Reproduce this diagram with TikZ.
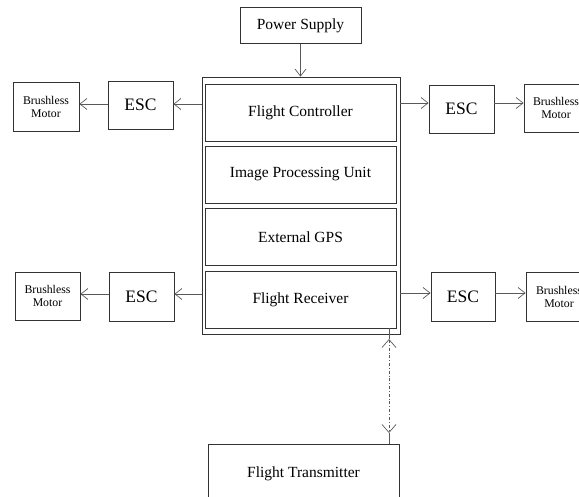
\documentclass[tikz,border=0pt]{standalone}
\usepackage{fontspec}
\setmainfont{Liberation Serif}
\usetikzlibrary{arrows.meta}
\begin{document}
\begin{tikzpicture}[x=1pt,y=-1pt,
  box/.style={draw=black!80, line width=0.8pt, minimum width=#1, inner sep=0pt, align=center, font=\fontsize{15.5}{17}\selectfont},
  escbox/.style={draw=black!80, line width=0.8pt, minimum width=65pt, minimum height=48pt, inner sep=0pt, font=\fontsize{17.5}{19}\selectfont},
  motbox/.style={draw=black!80, line width=0.8pt, minimum width=65pt, minimum height=48pt, inner sep=0pt, align=center, font=\fontsize{11.8}{13}\selectfont},
  arr/.style={draw=black!65, line width=0.7pt, -{Straight Barb[length=7pt,width=11pt]}},
  link/.style={draw=black!65, line width=0.7pt}
]
\clip (0,0) rectangle (579,497);
\useasboundingbox (0,0) rectangle (579,497);

% central stack
\node[box=121pt, minimum height=36pt] (ps) at (300.5,25.5) {Power Supply};
\node[draw=black!80, line width=0.8pt, minimum width=198pt, minimum height=257pt, inner sep=0pt] (outer) at (301,205.5) {};
\node[box=191pt, minimum height=57pt] (fc) at (300.5,112.5) {Flight Controller};
\node[box=191pt, minimum height=57pt] (ipu) at (300.5,174.5) {Image Processing Unit};
\node[box=191pt, minimum height=57pt] (gps) at (300.5,237) {External GPS};
\node[box=191pt, minimum height=57pt] (fr) at (300.5,299.5) {Flight Receiver};

% upper row
\node[escbox] (escL1) at (140.5,105) {ESC};
\node[motbox, minimum width=66pt, minimum height=49pt] (motL1) at (46,106.5) {Brushless\\Motor};
\node[escbox] (escR1) at (461.5,109) {ESC};
\node[motbox, minimum width=64pt] (motR1) at (556,108) {Brushless\\Motor};

% lower row
\node[escbox, minimum height=49pt] (escL2) at (141.5,296.5) {ESC};
\node[motbox] (motL2) at (47.5,296) {Brushless\\Motor};
\node[escbox, minimum width=64pt, minimum height=49pt] (escR2) at (463,296.5) {ESC};
\node[motbox, minimum width=66pt, minimum height=49pt] (motR2) at (559,296.5) {Brushless\\Motor};

% transmitter
\node[box=191pt, minimum height=60pt] (ft) at (303.5,474) {Flight Transmitter};

% connectors
\draw[arr] (ps.south) -- (ps.south |- outer.north);

\draw[arr] (outer.west |- 0,104) -- (escL1.east |- 0,104);
\draw[arr] (escL1.west |- 0,104) -- (motL1.east |- 0,104);
\draw[arr] (outer.east |- 0,103) -- (escR1.west |- 0,103);
\draw[arr] (escR1.east |- 0,103) -- (motR1.west |- 0,103);

\draw[arr] (outer.west |- 0,294) -- (escL2.east |- 0,294);
\draw[arr] (escL2.west |- 0,294) -- (motL2.east |- 0,294);
\draw[arr] (outer.east |- 0,293) -- (escR2.west |- 0,293);
\draw[arr] (escR2.east |- 0,293) -- (motR2.west |- 0,293);

\coordinate (up) at (389,339);
\coordinate (dn) at (389,433);
\draw[link] (fr.south -| up) -- (up);
\draw[link, dash dot, {Straight Barb[length=8pt,width=14pt]}-{Straight Barb[length=8pt,width=14pt]}] (up) -- (dn);
\draw[link] (dn) -- (ft.north -| dn);
\end{tikzpicture}
\end{document}
